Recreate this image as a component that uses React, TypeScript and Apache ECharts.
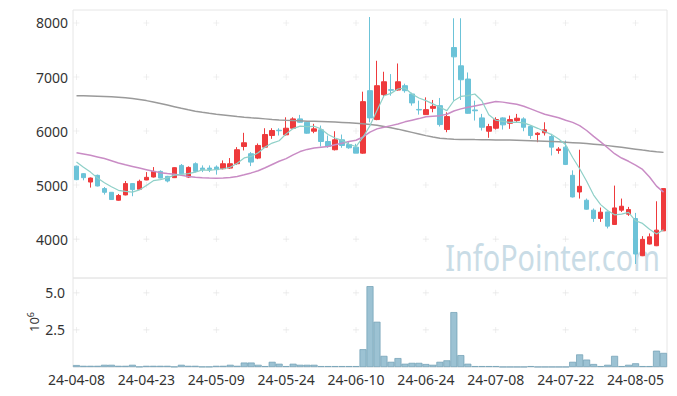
import React, { useEffect, useRef } from "react";
import * as echarts from "echarts";

const dates = [
  "24-04-08","24-04-09","24-04-11","24-04-12","24-04-15","24-04-16","24-04-17","24-04-18","24-04-19","24-04-22",
  "24-04-23","24-04-24","24-04-25","24-04-26","24-04-29","24-04-30","24-05-02","24-05-03","24-05-07","24-05-08",
  "24-05-09","24-05-10","24-05-13","24-05-14","24-05-16","24-05-17","24-05-20","24-05-21","24-05-22","24-05-23",
  "24-05-24","24-05-27","24-05-28","24-05-29","24-05-30","24-05-31","24-06-03","24-06-04","24-06-05","24-06-07",
  "24-06-10","24-06-11","24-06-12","24-06-13","24-06-14","24-06-17","24-06-18","24-06-19","24-06-20","24-06-21",
  "24-06-24","24-06-25","24-06-26","24-06-27","24-06-28","24-07-01","24-07-02","24-07-03","24-07-04","24-07-05",
  "24-07-08","24-07-09","24-07-10","24-07-11","24-07-12","24-07-15","24-07-16","24-07-17","24-07-18","24-07-19",
  "24-07-22","24-07-23","24-07-24","24-07-25","24-07-26","24-07-29","24-07-30","24-07-31","24-08-01","24-08-02",
  "24-08-05","24-08-06","24-08-07","24-08-08","24-08-09"
];

const opens = [
  5350,5211,5056,5180,4935,4866,4719,4817,5027,4922,
  5094,5149,5253,5161,5137,5364,5148,5395,5314,5314,
  5333,5303,5314,5395,5714,5580,5499,5702,5917,6015,
  5930,6052,6225,6162,5996,6022,5806,5654,5838,5751,
  5702,5591,6747,6212,6673,6765,6759,6839,6686,6400,
  6304,6420,6470,6028,7545,7207,6962,6390,6243,5996,
  6052,6243,6144,6194,6225,6083,5935,5967,5899,5641,
  5702,5180,4872,4719,4535,4382,4503,4271,4535,4461,
  4381,3692,3908,3877,4153
];
const closes = [
  5100,5137,5130,4983,4866,4732,4806,5027,4916,5069,
  5143,5253,5130,5075,5322,5211,5327,5254,5285,5290,
  5285,5395,5395,5654,5783,5425,5733,5935,6009,6005,
  6052,6225,6162,5960,6040,5806,5714,5838,5733,5690,
  5591,6544,6243,6839,6912,6755,6912,6747,6520,6390,
  6396,6457,6120,6267,7373,6949,6328,6375,6070,6083,
  6212,6114,6212,6237,6070,5917,5960,6022,5702,5665,
  5382,4780,4977,4553,4382,4498,4240,4577,4608,4547,
  3724,3995,4042,4166,4935
];
const lows = [
  5090,5088,4953,4975,4824,4725,4710,4810,4793,4915,
  5090,5140,5125,5050,5130,5200,5130,5235,5240,5240,
  5193,5290,5300,5377,5641,5351,5480,5690,5856,5917,
  5917,6040,6150,5950,5960,5714,5690,5641,5690,5672,
  5591,5580,6162,6200,6623,6654,6747,6710,6470,6304,
  6300,6347,6083,5978,6562,6575,6320,6194,6009,5875,
  6028,6028,6040,6162,5996,5856,5794,5917,5548,5580,
  5370,4770,4750,4545,4319,4319,4197,4265,4503,4430,
  3539,3685,3900,3870,4150
];
const highs = [
  5360,5220,5140,5193,4964,4870,4835,5075,5030,5100,
  5240,5333,5272,5170,5330,5390,5346,5420,5364,5364,
  5364,5456,5500,5702,5967,5610,5770,6052,6052,6052,
  6254,6254,6299,6170,6133,6101,5917,5996,5935,5794,
  5764,6728,8110,7300,7097,7054,7250,6876,6710,6562,
  6623,6575,6612,6347,8087,8087,7084,6562,6317,6133,
  6254,6254,6286,6317,6254,6101,5978,6162,5948,5702,
  5825,5272,5654,4750,4566,4584,4510,4990,4750,4596,
  4485,4055,4105,4700,4940
];

const ma5 = [
  5425,5330,5240,5130,5043,4970,4903,4883,4869,4910,
  4992,5082,5102,5134,5185,5198,5213,5238,5280,5273,
  5288,5302,5330,5404,5502,5530,5598,5706,5777,5821,
  5947,6045,6091,6081,6088,6039,5936,5872,5826,5756,
  5713,5886,6101,6378,6654,6697,6778,6796,6686,6612,
  6562,6502,6440,6378,6560,6640,6654,6686,6560,6300,
  6200,6178,6160,6165,6150,6105,6050,5990,5934,5853,
  5746,5510,5301,5071,4815,4638,4530,4450,4461,4494,
  4339,4290,4183,4095,4172
];
const ma20 = [
  5600,5575,5550,5520,5490,5450,5410,5375,5345,5315,
  5285,5255,5230,5212,5198,5180,5160,5145,5135,5130,
  5128,5130,5140,5160,5190,5225,5265,5320,5380,5440,
  5490,5560,5620,5660,5685,5700,5715,5745,5775,5805,
  5830,5890,5980,6040,6070,6100,6130,6170,6200,6230,
  6265,6275,6285,6310,6370,6410,6440,6465,6490,6520,
  6545,6535,6515,6495,6460,6410,6360,6310,6280,6245,
  6200,6160,6100,6010,5900,5800,5690,5580,5500,5440,
  5370,5290,5150,4980,4870
];
const ma120 = [
  6655,6653,6650,6646,6641,6635,6627,6617,6603,6585,
  6563,6538,6510,6480,6450,6420,6392,6368,6347,6328,
  6312,6298,6284,6270,6257,6245,6235,6225,6215,6206,
  6199,6193,6188,6183,6179,6175,6171,6166,6160,6153,
  6145,6135,6122,6105,6085,6062,6035,6005,5975,5945,
  5915,5890,5868,5855,5848,5845,5843,5841,5840,5838,
  5836,5834,5832,5829,5826,5822,5817,5812,5806,5800,
  5793,5785,5777,5767,5756,5744,5730,5715,5699,5682,
  5665,5648,5632,5618,5605
];

const volumes = [
  0.13,0.08,0.08,0.08,0.15,0.15,0.08,0.08,0.15,0.02,
  0.08,0.08,0.08,0.08,0.02,0.15,0.08,0.08,0.02,0.02,
  0.08,0.08,0.15,0.08,0.3,0.3,0.15,0.06,0.35,0.22,
  0.06,0.22,0.15,0.15,0.15,0.06,0.06,0.06,0.06,0.06,
  0.06,1.2,5.45,3.05,0.75,0.35,0.6,0.22,0.28,0.28,
  0.2,0.15,0.35,0.45,3.7,0.8,0.22,0.06,0.06,0.06,
  0.06,0.01,0.01,0.01,0.01,0.06,0.01,0.01,0.01,0.01,
  0.01,0.35,0.85,0.5,0.2,0.06,0.15,0.75,0.06,0.15,
  0.25,0.06,0.06,1.1,0.95
];

const priceTicks = [4000, 5000, 6000, 7000, 8000];
const volumeTicks = [2.5, 5.0];
const labelStep = 10;

const FONT = "Noto Sans";
const PLUS = "path://M4.5,0H5.5V4.5H10V5.5H5.5V10H4.5V5.5H0V4.5H4.5Z";

export default function App() {
  const ref = useRef<HTMLDivElement>(null);

  useEffect(() => {
    const chart = echarts.init(ref.current!, null, { renderer: "svg" });
    const candles = dates.map((_, i) => [opens[i], closes[i], lows[i], highs[i]]);
    const labelIdx = dates.map((_, i) => i).filter((i) => i % labelStep === 0);
    const mainPlus: number[][] = [];
    labelIdx.forEach((i) => priceTicks.forEach((v) => mainPlus.push([i, v])));
    const volPlus: number[][] = [];
    labelIdx.forEach((i) => volumeTicks.forEach((v) => volPlus.push([i, v])));

    chart.setOption({
      animation: false,
      backgroundColor: "#ffffff",
      textStyle: { fontFamily: FONT },
      grid: [
        { left: 73, right: 10, top: 10, height: 268, show: true, borderColor: "#e6e6e6", borderWidth: 1 },
        { left: 73, right: 10, top: 278, height: 89, show: true, borderColor: "#e6e6e6", borderWidth: 1 },
      ],
      xAxis: [
        {
          type: "category", gridIndex: 0, data: dates, boundaryGap: true,
          axisLine: { show: false },
          axisTick: { show: false },
          axisLabel: { show: false },
          splitLine: { show: false },
        },
        {
          type: "category", gridIndex: 1, data: dates, boundaryGap: true,
          axisLine: { show: false },
          axisTick: { show: false },
          axisLabel: {
            show: true,
            interval: (i: number) => i % labelStep === 0,
            color: "#333",
            fontSize: 14,
            fontFamily: FONT,
            margin: 5,
          },
          splitLine: { show: false },
        },
      ],
      yAxis: [
        {
          type: "value", gridIndex: 0, min: 3280, max: 8240,
          axisLine: { show: false }, axisTick: { show: false },
          splitLine: { show: false },
          axisLabel: {
            customValues: priceTicks, color: "#333", fontSize: 14, fontFamily: FONT, margin: 5,
            formatter: (v: number) => String(v),
          },
        },
        {
          type: "value", gridIndex: 1, min: 0, max: 6,
          axisLine: { show: false }, axisTick: { show: false },
          splitLine: { show: false },
          axisLabel: {
            customValues: volumeTicks, color: "#333", fontSize: 14, fontFamily: FONT, margin: 8,
            formatter: (v: number) => v.toFixed(1),
          },
        },
      ],
      graphic: [
        {
          type: "text", x: 660, y: 257, scaleX: 0.9, scaleY: 1.12, z: 0, silent: true,
          style: {
            text: "InfoPointer.com", x: 0, y: 0, align: "right", verticalAlign: "middle",
            font: `32px "${FONT}"`, fill: "#c9dce6",
          },
        },
        {
          type: "text", x: 34, y: 322, rotation: Math.PI / 2, silent: true,
          style: {
            text: "{b|10}{s|6}", x: 0, y: 0, align: "center", verticalAlign: "middle",
            rich: {
              b: { fontSize: 13, fill: "#333", fontFamily: FONT },
              s: { fontSize: 9, fill: "#333", fontFamily: FONT, padding: [0, 0, 8, 0] },
            },
          },
        },
      ],
      series: [
        {
          type: "scatter", xAxisIndex: 0, yAxisIndex: 0, data: mainPlus, symbol: PLUS, symbolSize: 6,
          itemStyle: { color: "#dddddd" }, silent: true, z: 1,
        },
        {
          type: "scatter", xAxisIndex: 1, yAxisIndex: 1, data: volPlus, symbol: PLUS, symbolSize: 6,
          itemStyle: { color: "#dddddd" }, silent: true, z: 1,
        },
        {
          type: "candlestick", xAxisIndex: 0, yAxisIndex: 0, data: candles, barWidth: 5,
          itemStyle: {
            color: "#ee3a3c", color0: "#6cc3d8",
            borderColor: "#ee3a3c", borderColor0: "#6cc3d8", borderWidth: 1,
          },
          z: 3,
        },
        {
          type: "line", xAxisIndex: 0, yAxisIndex: 0, data: ma120, showSymbol: false,
          lineStyle: { color: "#9a9a9a", width: 1.5 }, z: 4,
        },
        {
          type: "line", xAxisIndex: 0, yAxisIndex: 0, data: ma20, showSymbol: false,
          lineStyle: { color: "#c98cc5", width: 1.5 }, z: 4,
        },
        {
          type: "line", xAxisIndex: 0, yAxisIndex: 0, data: ma5, showSymbol: false,
          lineStyle: { color: "#8fd0c8", width: 1.2 }, z: 4,
        },
        {
          type: "bar", xAxisIndex: 1, yAxisIndex: 1, data: volumes, barCategoryGap: "0%",
          itemStyle: { color: "#9cc2d3", borderColor: "#6f9db3", borderWidth: 0.7 },
          z: 3,
        },
      ],
    });
    return () => chart.dispose();
  }, []);

  return (
    <div
      ref={ref}
      style={{ position: "fixed", left: 0, top: 0, width: 677, height: 396 }}
    />
  );
}
